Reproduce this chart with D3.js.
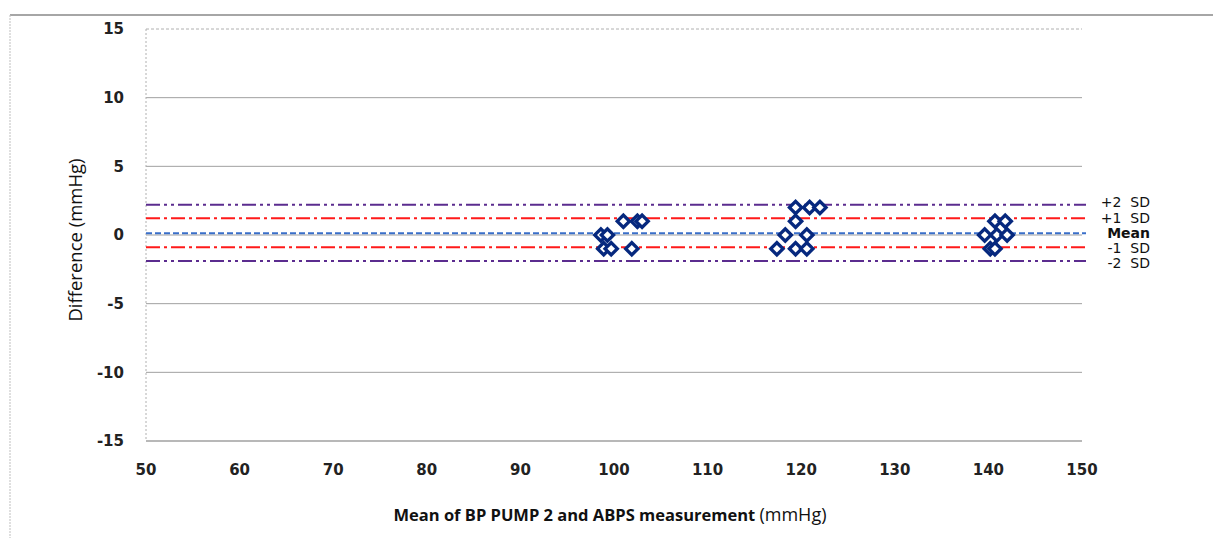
<!DOCTYPE html>
<html>
<head>
<meta charset="utf-8">
<script src="https://cdn.jsdelivr.net/npm/d3@7"></script>
<style>
  body { margin: 0; background: #fff; }
  svg text { font-family: "DejaVu Sans", "Open Sans", sans-serif; }
  svg text.title { font-family: "Open Sans", sans-serif; }
</style>
</head>
<body>
<div id="chart"></div>
<script>
// data
const meanBP = [98.6, 99.3, 98.9, 99.7, 101.0, 102.5, 103.0, 101.9,
                119.4, 120.9, 122.0, 119.4, 118.3, 120.6, 117.4, 119.4, 120.6,
                140.7, 141.8, 139.6, 140.9, 142.0, 140.2, 140.7];
const diffBP = [0, 0, -1, -1, 1, 1, 1, -1,
                2, 2, 2, 1, 0, 0, -1, -1, -1,
                1, 1, 0, 0, 0, -1, -1];
const limitNames = ["+2 SD", "+1 SD", "Mean", "-1 SD", "-2 SD"];
const limitValues = [2.2, 1.22, 0.13, -0.9, -1.9];
const xTicks = [50, 60, 70, 80, 90, 100, 110, 120, 130, 140, 150];
const yTicks = [-15, -10, -5, 0, 5, 10, 15];

const width = 1213, height = 538;
const margin = {top: 29, right: 131, bottom: 97, left: 146};

const x = d3.scaleLinear([50, 150], [margin.left, width - margin.right]);
const y = d3.scaleLinear([-15, 15], [height - margin.bottom, margin.top]);

// line looks per limit
const limitStyle = {
  "+2 SD": {stroke: "#5b2c8f", dash: "14,4,3,4,3,4"},
  "+1 SD": {stroke: "#ff1a1a", dash: "14,4,3,4"},
  "Mean":  {stroke: "#3a6fc9", dash: "6,3"},
  "-1 SD": {stroke: "#ff1a1a", dash: "14,4,3,4"},
  "-2 SD": {stroke: "#5b2c8f", dash: "14,4,3,4,3,4"}
};
const labelShift = {"+2 SD": -3, "+1 SD": -0.5, "Mean": 0, "-1 SD": 1, "-2 SD": 2};

const svg = d3.select("#chart").append("svg")
  .attr("width", width)
  .attr("height", height)
  .attr("viewBox", [0, 0, width, height]);

// outer chart frame
svg.append("line")
  .attr("x1", 10).attr("x2", width).attr("y1", 15).attr("y2", 15)
  .attr("stroke", "#a6a6a6").attr("stroke-width", 2);
svg.append("line")
  .attr("x1", 10).attr("x2", 10).attr("y1", 15).attr("y2", height)
  .attr("stroke", "#bfbfbf").attr("stroke-dasharray", "2,1");

// gridlines
svg.append("g")
  .selectAll("line")
  .data(yTicks)
  .join("line")
    .attr("x1", x(50)).attr("x2", x(150))
    .attr("y1", d => y(d)).attr("y2", d => y(d))
    .attr("stroke", d => d === 15 ? "#b0b0b0" : "#a0a0a0")
    .attr("stroke-dasharray", d => d === 15 ? "3,2" : null)
    .attr("stroke-width", d => d === -15 ? 1.5 : 1);

// y axis line (dotted)
svg.append("line")
  .attr("x1", x(50)).attr("x2", x(50)).attr("y1", y(15)).attr("y2", y(-15))
  .attr("stroke", "#b0b0b0").attr("stroke-dasharray", "2,2");

// y tick labels
svg.append("g")
  .attr("font-size", 15).attr("font-weight", "bold").attr("fill", "#222")
  .selectAll("text")
  .data(yTicks)
  .join("text")
    .attr("x", 124)
    .attr("y", d => y(d))
    .attr("dy", "0.35em")
    .attr("text-anchor", "end")
    .text(d => d);

// x tick labels
svg.append("g")
  .attr("font-size", 15).attr("font-weight", "bold").attr("fill", "#222")
  .selectAll("text")
  .data(xTicks)
  .join("text")
    .attr("x", d => x(d))
    .attr("y", 470)
    .attr("dy", "0.35em")
    .attr("text-anchor", "middle")
    .text(d => d);

// limit lines
svg.append("g")
  .attr("fill", "none")
  .selectAll("line")
  .data(limitNames)
  .join("line")
    .attr("x1", x(50)).attr("x2", x(150) + 4)
    .attr("y1", (d, i) => y(limitValues[i]))
    .attr("y2", (d, i) => y(limitValues[i]))
    .attr("stroke", d => limitStyle[d].stroke)
    .attr("stroke-width", 2)
    .attr("stroke-dasharray", d => limitStyle[d].dash);

svg.append("g")
  .attr("font-size", 14).attr("fill", "#111")
  .selectAll("text")
  .data(limitNames)
  .join("text")
    .attr("x", 1150)
    .attr("y", (d, i) => y(limitValues[i]) + labelShift[d])
    .attr("dy", "0.35em")
    .attr("text-anchor", "end")
    .attr("font-weight", d => d === "Mean" ? "bold" : null)
    .text(d => d.replace(" ", "\u00a0\u00a0"));

// points
const diamond = d3.symbol(d3.symbolSquare, 76);
svg.append("g")
  .selectAll("path")
  .data(meanBP.map((m, i) => [m, diffBP[i]]))
  .join("path")
    .attr("d", diamond)
    .attr("transform", d => `translate(${x(d[0])},${y(d[1])}) rotate(45)`)
    .attr("fill", "white")
    .attr("stroke", "#06287e")
    .attr("stroke-width", 3.3);

// axis titles
svg.append("text")
  .attr("class", "title")
  .attr("transform", `translate(76,240) rotate(-90)`)
  .attr("text-anchor", "middle")
  .attr("dy", "0.35em")
  .attr("font-size", 18.5)
  .attr("fill", "#111")
  .text("Difference (mmHg)");

const xt = svg.append("text")
  .attr("class", "title")
  .attr("x", 610).attr("y", 515)
  .attr("text-anchor", "middle")
  .attr("dy", "0.35em")
  .attr("font-size", 16.5)
  .attr("fill", "#111");
xt.append("tspan").attr("font-weight", "bold").text("Mean of BP PUMP 2 and ABPS measurement ");
xt.append("tspan").attr("font-size", 18).text("(mmHg)");
</script>
</body>
</html>
